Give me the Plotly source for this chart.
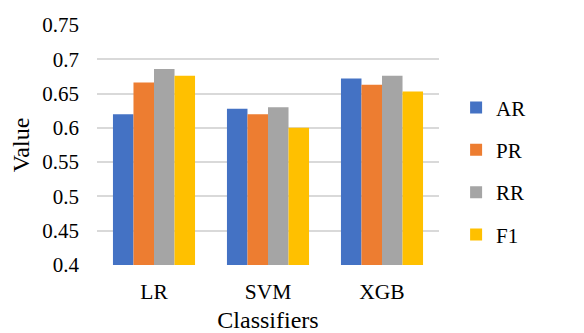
import plotly.graph_objects as go

categories = ["LR", "SVM", "XGB"]
series_names = ["AR", "PR", "RR", "F1"]
AR = [0.620, 0.628, 0.672]
PR = [0.666, 0.620, 0.663]
RR = [0.686, 0.630, 0.676]
F1 = [0.676, 0.600, 0.653]
colors = ["#4472C4", "#ED7D31", "#A5A5A5", "#FFC000"]
yticks = [0.4, 0.45, 0.5, 0.55, 0.6, 0.65, 0.7, 0.75]
ytick_labels = ["0.4", "0.45", "0.5", "0.55", "0.6", "0.65", "0.7", "0.75"]

fig = go.Figure()
for name, vals, c in zip(series_names, [AR, PR, RR, F1], colors):
    fig.add_trace(go.Bar(x=categories, y=vals, name=name, marker_color=c,
                         marker_line_width=0, legendgroup=name))

font = "Liberation Serif"
fig.update_layout(
    width=576, height=325,
    margin=dict(l=89, r=145, t=17, b=68),
    plot_bgcolor="white", paper_bgcolor="white",
    barmode="group", bargap=0.28, bargroupgap=0,
    font=dict(family=font, size=21, color="#000000"),
    legend=dict(x=1.05, y=0.39, xanchor="left", yanchor="middle",
                font=dict(family=font, size=21), tracegroupgap=12, itemwidth=30),
    xaxis=dict(title=dict(text="Classifiers", standoff=13, font=dict(size=24)),
               showline=False, ticks="", automargin=False,
               ticklabelstandoff=11, tickfont=dict(size=21.5)),
    yaxis=dict(title=dict(text="Value", standoff=26, font=dict(size=24)),
               range=[0.4, 0.75], tickvals=yticks, ticktext=ytick_labels,
               showgrid=True, gridcolor="#D9D9D9", gridwidth=1.5, zeroline=False,
               ticks="", automargin=False, ticklabelstandoff=17, tickfont=dict(size=21)),
)
fig.write_html("out.html")
